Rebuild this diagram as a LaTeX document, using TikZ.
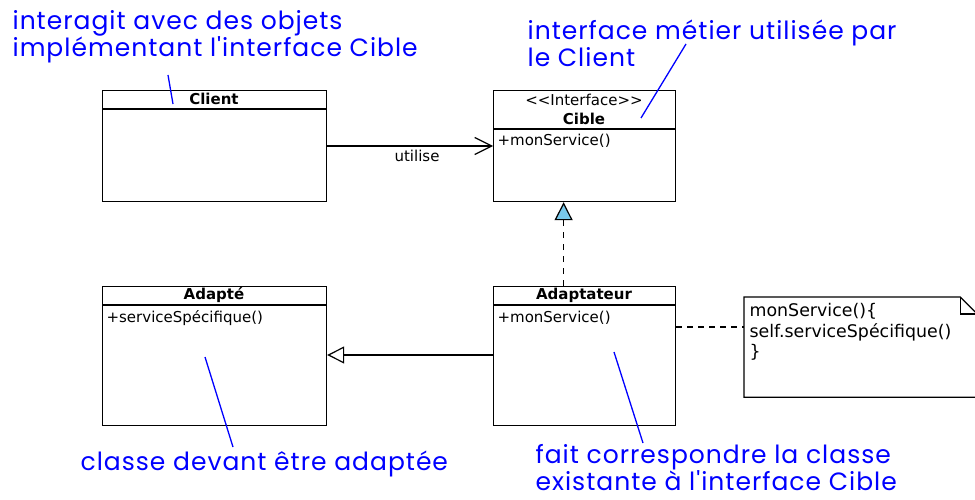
\documentclass[tikz,border=0pt]{standalone}
\usepackage{fontspec}
\setmainfont{DejaVu Sans}
\newfontfamily\handfont[LetterSpace = 4]{Poppins}
\usetikzlibrary{arrows.meta}
\definecolor{tipBlue}{RGB}{120,200,235}

\begin{document}
\begin{tikzpicture}[x = 1pt, y = -1pt, line width = 1.2pt, font = \fontsize{15}{18}\selectfont]
	\tikzstyle{classStyle} = [draw, shape = rectangle, anchor = north west, inner sep = 0pt]
	\tikzstyle{nameStyle} = [inner sep = 0pt, font = \fontsize{15}{18}\selectfont\bfseries]
	\tikzstyle{opStyle} = [inner sep = 0pt, anchor = west]
	\tikzstyle{noteStyle} = [shape = rectangle, anchor = north west, inner sep = 0pt, minimum width = 232pt, minimum height = 99pt]
	\tikzstyle{handStyle} = [inner sep = 0pt, anchor = north west, align = left, text = blue, font = \fontsize{25}{27}\handfont]
	\tikzstyle{pointerStyle} = [draw = blue, line width = 1.3pt]
	\useasboundingbox (0, 0) rectangle (975, 500);
	\node[classStyle, minimum width = 224pt, minimum height = 111pt](c0) at (102, 90) {};
	\node[classStyle, minimum width = 182pt, minimum height = 111pt](c1) at (493, 90) {};
	\node[classStyle, minimum width = 224pt, minimum height = 139pt](c2) at (102, 286) {};
	\node[classStyle, minimum width = 182pt, minimum height = 139pt](c3) at (493, 286) {};
	\draw ([yshift = -19pt]c0.north west) -- ([yshift = -19pt]c0.north east);
	\draw ([yshift = -39pt]c1.north west) -- ([yshift = -39pt]c1.north east);
	\draw ([yshift = -19pt]c2.north west) -- ([yshift = -19pt]c2.north east);
	\draw ([yshift = -19pt]c3.north west) -- ([yshift = -19pt]c3.north east);
	\node[nameStyle](c0name) at (214, 99) {Client};
	\node[inner sep = 0pt](c1type) at (584, 100) {{<}{<}Interface{>}{>}};
	\node[nameStyle](c1name) at (584, 119) {Cible};
	\node[nameStyle](c2name) at (214, 295) {Adapté};
	\node[nameStyle](c3name) at (584, 295) {Adaptateur};
	\node[opStyle](c1op) at (497, 141) {+monService()};
	\node[opStyle](c2op) at (106, 318) {+serviceSpécifique()};
	\node[opStyle](c3op) at (497, 318) {+monService()};
	\node[noteStyle](n0) at (744, 297) {};
	\draw (n0.north west) -- ([xshift = -17pt]n0.north east) -- ([yshift = -17pt]n0.north east) -- (n0.south east) -- (n0.south west) -- cycle;
	\draw ([xshift = -17pt]n0.north east) -- ([xshift = -17pt, yshift = -17pt]n0.north east) -- ([yshift = -17pt]n0.north east);
	\node[inner sep = 0pt, anchor = north west, align = left, font = \fontsize{17.4}{20.5}\selectfont](n1) at (749, 303) {monService()\{\\self.serviceSpécifique()\\\}};
	\draw[-{Straight Barb[length = 17pt, width = 17pt]}] (c0.east |- 0, 146) -- (c1.west |- 0, 146);
	\node[inner sep = 0pt](u0) at (417, 156) {utilise};
	\draw[dash pattern = on 6pt off 6pt, -{Triangle[length = 18pt, width = 18pt, fill = tipBlue]}] ([xshift = -21pt]c3.north) -- ([xshift = -21pt]c1.south);
	\draw[-{Triangle[open, length = 17pt, width = 17pt]}] (c3.west |- 0, 355) -- (c2.east |- 0, 355);
	\draw[dash pattern = on 6pt off 5pt] (c3.east |- 0, 327) -- (n0.west |- 0, 327);
	\node[handStyle](t0) at (12, 10) {interagit avec des objets\\implémentant l'interface Cible};
	\node[handStyle](t1) at (527, 19) {interface métier utilisée par\\le Client};
	\node[handStyle](t2) at (80, 450) {classe devant être adaptée};
	\node[handStyle](t3) at (535, 444) {fait correspondre la classe\\existante à l'interface Cible};
	\coordinate (a0) at (168, 75);
	\coordinate (b0) at (173, 104);
	\coordinate (a1) at (686, 44);
	\coordinate (b1) at (641, 118);
	\coordinate (a2) at (233, 447);
	\coordinate (b2) at (205, 357);
	\coordinate (a3) at (643, 443);
	\coordinate (b3) at (614, 352);
	\draw[pointerStyle] (a0) -- (b0);
	\draw[pointerStyle] (a1) -- (b1);
	\draw[pointerStyle] (a2) -- (b2);
	\draw[pointerStyle] (a3) -- (b3);
\end{tikzpicture}
\end{document}
